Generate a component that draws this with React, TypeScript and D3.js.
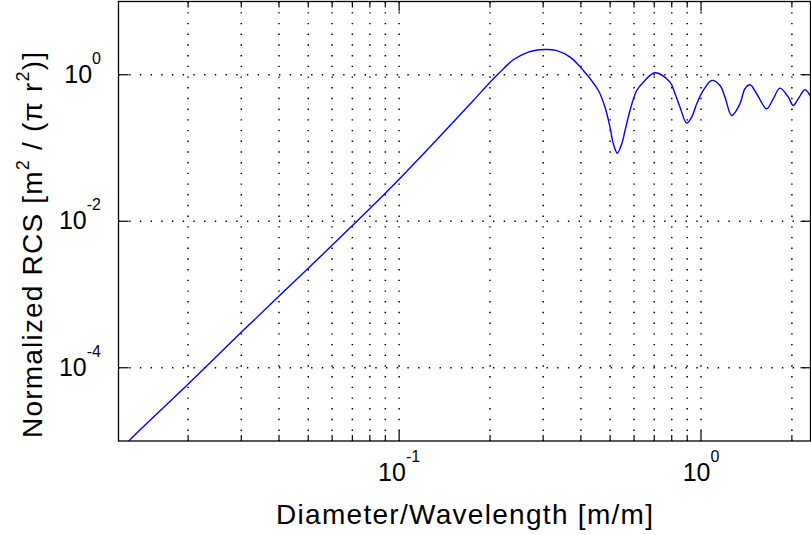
import React from "react";
import * as d3 from "d3";

// Diameter / wavelength (x) and normalized RCS (y)
const diamOverLambda = [
  0.0118, 0.01276, 0.01986, 0.02975, 0.0501, 0.0791,
  0.1, 0.1267, 0.1494, 0.1762, 0.2001, 0.2133, 0.239, 0.2679, 0.2865, 0.3066, 0.331,
  0.3684, 0.4076, 0.4571, 0.4809, 0.4995, 0.5124, 0.5282, 0.5463, 0.5603, 0.5818, 0.6123,
  0.6441, 0.7043, 0.7897, 0.8203, 0.8522, 0.8966, 0.9315, 0.9678, 1.0177, 1.085, 1.156,
  1.201, 1.264, 1.346, 1.398, 1.453, 1.529, 1.65, 1.735, 1.826, 1.946, 2.021, 2.1, 2.21,
  2.313,
];
const normalizedRcs = [
  7.0e-6, 1.01e-5, 5.8e-5, 2.95e-4, 2.3e-3, 0.0142,
  0.0375, 0.104, 0.215, 0.4456, 0.792, 1.032, 1.6, 2.036, 2.18, 2.216, 2.15,
  1.74, 1.145, 0.61, 0.361, 0.1923, 0.1141, 0.0849, 0.1141, 0.1734, 0.3253, 0.61,
  0.792, 1.065, 0.792, 0.55, 0.361, 0.2182, 0.2636, 0.402, 0.61, 0.836, 0.714,
  0.494, 0.278, 0.402, 0.644, 0.73, 0.55, 0.343, 0.47, 0.656, 0.494, 0.381, 0.47, 0.624,
  0.494,
];

const xMajorTicks = [0.1, 1];
const xMajorExponents = ["-1", "0"];
const xMinorTicks = [
  0.02, 0.03, 0.04, 0.05, 0.06, 0.07, 0.08, 0.09,
  0.2, 0.3, 0.4, 0.5, 0.6, 0.7, 0.8, 0.9, 2,
];
const yMajorTicks = [1e-4, 1e-2, 1];
const yMajorExponents = ["-4", "-2", "0"];

const xLabel = "Diameter/Wavelength [m/m]";

const W = 811;
const H = 535;
const L = 118.5;
const R = 810.5;
const T = 1.5;
const B = 441;

const FONT = '"Liberation Sans", Arial, Helvetica, sans-serif';

export default function App() {
  const x = d3.scaleLog().domain([0.01176, 2.305]).range([L, R]);
  const y = d3.scaleLog().domain([1e-5, 10]).range([B, T]);

  const pts = diamOverLambda.map((d, i) => [d, normalizedRcs[i]] as [number, number]);
  const line = d3
    .line<[number, number]>()
    .x((d) => x(d[0]))
    .y((d) => y(d[1]))
    .curve(d3.curveCatmullRom.alpha(0.5));

  const dot = "1.4 9.3";
  const majorTick = 10;
  const minorTick = 6;

  return (
    <svg
      width={W}
      height={H}
      style={{ position: "absolute", left: 0, top: 0, background: "#fff" }}
      fontFamily={FONT}
    >
      <rect x={0} y={0} width={W} height={H} fill="#fff" />
      <defs>
        <clipPath id="plotclip">
          <rect x={L} y={T} width={R - L} height={B - T} />
        </clipPath>
      </defs>

      {/* grid */}
      <g stroke="#000" strokeWidth={1.5} strokeDasharray={dot} fill="none">
        {[...xMinorTicks, ...xMajorTicks].map((v, i) => (
          <line key={"gx" + i} x1={x(v)} x2={x(v)} y1={T} y2={B} />
        ))}
        {yMajorTicks.map((v, i) => (
          <line key={"gy" + i} x1={L} x2={R} y1={y(v)} y2={y(v)} />
        ))}
      </g>

      {/* data line */}
      <path
        d={line(pts) || ""}
        fill="none"
        stroke="#0000ff"
        strokeWidth={1.4}
        clipPath="url(#plotclip)"
      />

      {/* ticks */}
      <g stroke="#000" strokeWidth={1.2}>
        {xMinorTicks.map((v, i) => (
          <g key={"tx" + i}>
            <line x1={x(v)} x2={x(v)} y1={B} y2={B - minorTick} />
            <line x1={x(v)} x2={x(v)} y1={T} y2={T + minorTick} />
          </g>
        ))}
        {xMajorTicks.map((v, i) => (
          <g key={"TX" + i}>
            <line x1={x(v)} x2={x(v)} y1={B} y2={B - majorTick} />
            <line x1={x(v)} x2={x(v)} y1={T} y2={T + majorTick} />
          </g>
        ))}
        {yMajorTicks.map((v, i) => (
          <g key={"TY" + i}>
            <line x1={L} x2={L + majorTick} y1={y(v)} y2={y(v)} />
            <line x1={R} x2={R - majorTick} y1={y(v)} y2={y(v)} />
          </g>
        ))}
      </g>

      {/* axes box */}
      <rect x={L} y={T} width={R - L} height={B - T} fill="none" stroke="#000" strokeWidth={1.3} />

      {/* x tick labels */}
      {xMajorTicks.map((v, i) => (
        <text key={"lx" + i} x={x(v)} y={481} textAnchor="middle" fontSize={25} fill="#000">
          <tspan>10</tspan>
          <tspan fontSize={16} dy={-19}>{xMajorExponents[i]}</tspan>
        </text>
      ))}

      {/* y tick labels */}
      {yMajorTicks.map((v, i) => (
        <text key={"ly" + i} x={101} y={y(v) + 8} textAnchor="end" fontSize={25} fill="#000">
          <tspan>10</tspan>
          <tspan fontSize={16} dy={-19}>{yMajorExponents[i]}</tspan>
        </text>
      ))}

      {/* x label */}
      <text
        x={(L + R) / 2}
        y={524}
        textAnchor="middle"
        fontSize={28}
        fill="#000"
        textLength={377}
        lengthAdjust="spacing"
      >
        {xLabel}
      </text>

      {/* y label */}
      <text
        transform="translate(42,245) rotate(-90)"
        textAnchor="middle"
        fontSize={28}
        fill="#000"
        textLength={386}
        lengthAdjust="spacing"
      >
        <tspan>Normalized RCS [m</tspan>
        <tspan fontSize={18} dy={-13}>2</tspan>
        <tspan dy={13}>{"  / (\u03c0 r"}</tspan>
        <tspan fontSize={18} dy={-13}>2</tspan>
        <tspan dy={13}>)]</tspan>
      </text>
    </svg>
  );
}
